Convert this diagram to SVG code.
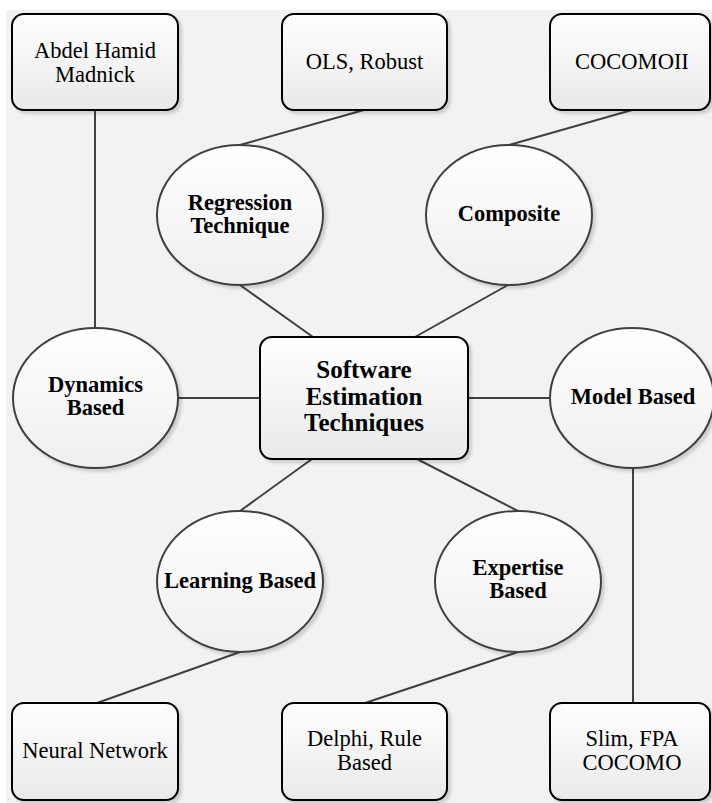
<svg xmlns="http://www.w3.org/2000/svg" width="712" height="803" viewBox="0 0 712 803">
<style>
.box{fill:url(#gb);stroke:#000;stroke-width:2;filter:url(#sh)}
.ell{fill:url(#ge);stroke:#404040;stroke-width:2;filter:url(#sh)}
.con line{stroke:#404040;stroke-width:2}
text{font-size:22.5px;fill:#000;text-anchor:middle}
.b{font-weight:bold}
.c{font-weight:bold;font-size:25px}
</style>
<defs>
<linearGradient id="gb" x1="0" y1="0" x2="0" y2="1"><stop offset="0" stop-color="#ffffff"/><stop offset="1" stop-color="#e9e9e9"/></linearGradient>
<linearGradient id="ge" x1="0" y1="0" x2="0" y2="1"><stop offset="0" stop-color="#ffffff"/><stop offset="1" stop-color="#efefef"/></linearGradient>
<filter id="sh" x="-10%" y="-10%" width="125%" height="125%"><feDropShadow dx="3" dy="3" stdDeviation="1.5" flood-color="#000" flood-opacity="0.15"/></filter>
</defs>
<rect x="6" y="10" width="706" height="793" fill="#f2f2f2"/>
<g id="connectors" class="con">
<line x1="95" y1="110" x2="95" y2="328"/>
<line x1="364" y1="110" x2="240" y2="145"/>
<line x1="632" y1="110" x2="509" y2="145"/>
<line x1="240" y1="285" x2="313" y2="337"/>
<line x1="508" y1="285" x2="415" y2="337"/>
<line x1="178" y1="398" x2="260" y2="398"/>
<line x1="468" y1="398" x2="550" y2="398"/>
<line x1="312" y1="459" x2="240" y2="511"/>
<line x1="417" y1="459" x2="518" y2="511"/>
<line x1="633" y1="467" x2="633" y2="703"/>
<line x1="240" y1="652" x2="97" y2="703"/>
<line x1="518" y1="652" x2="365" y2="703"/>
</g>
<g font-family="Liberation Serif, DejaVu Serif, serif">
<g id="abdel"><rect class="box" x="12" y="14" width="166" height="96" rx="12"/><text x="95" y="58">Abdel Hamid</text><text x="95" y="82">Madnick</text></g>
<g id="ols"><rect class="box" x="282" y="14" width="165" height="96" rx="12"/><text x="364.5" y="69">OLS, Robust</text></g>
<g id="cocomoii"><rect class="box" x="550" y="14" width="160" height="96" rx="12"/><text x="632" y="69">COCOMOII</text></g>
<g id="regression"><ellipse class="ell" cx="240" cy="215" rx="83" ry="70"/><text class="b" x="240" y="210">Regression</text><text class="b" x="240" y="233">Technique</text></g>
<g id="composite"><ellipse class="ell" cx="509" cy="215" rx="83" ry="70"/><text class="b" x="509" y="221">Composite</text></g>
<g id="dynamics"><ellipse class="ell" cx="95.5" cy="398" rx="82.5" ry="70"/><text class="b" x="95.5" y="392">Dynamics</text><text class="b" x="95.5" y="415">Based</text></g>
<g id="center"><rect class="box" x="260" y="337" width="208" height="122" rx="12"/><text class="c" x="364" y="378">Software</text><text class="c" x="364" y="405">Estimation</text><text class="c" x="364" y="431">Techniques</text></g>
<g id="model"><ellipse class="ell" cx="632" cy="398" rx="82" ry="70"/><text class="b" x="633" y="404">Model Based</text></g>
<g id="learning"><ellipse class="ell" cx="240" cy="581.5" rx="83" ry="70.5"/><text class="b" x="240" y="588">Learning Based</text></g>
<g id="expertise"><ellipse class="ell" cx="518" cy="581.5" rx="83" ry="70.5"/><text class="b" x="518" y="575">Expertise</text><text class="b" x="518" y="598">Based</text></g>
<g id="neural"><rect class="box" x="12" y="703" width="166" height="97" rx="12"/><text x="95" y="758">Neural Network</text></g>
<g id="delphi"><rect class="box" x="282" y="703" width="165" height="97" rx="12"/><text x="364.5" y="746">Delphi, Rule</text><text x="364.5" y="770">Based</text></g>
<g id="slim"><rect class="box" x="550" y="703" width="160" height="97" rx="12"/><text x="632" y="746">Slim, FPA</text><text x="632" y="770">COCOMO</text></g>
</g>
</svg>
